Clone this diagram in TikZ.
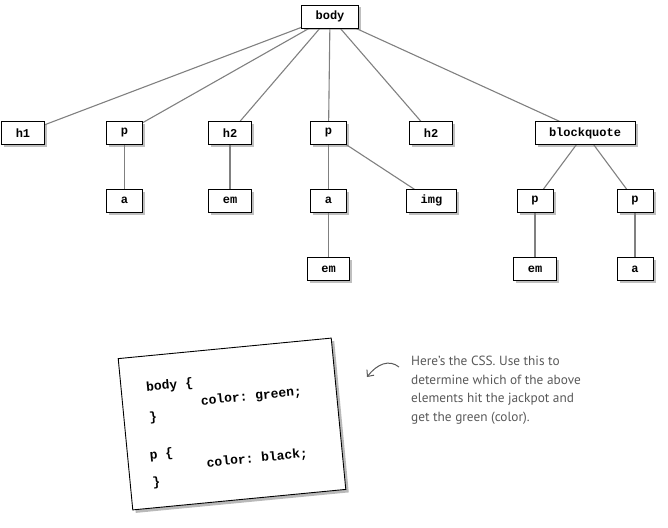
\documentclass[tikz,border=0pt]{standalone}
\usepackage{fontspec}
\setmonofont{Liberation Mono}
\newfontfamily\handfont{PT Sans}
\usetikzlibrary{arrows.meta,shadows,backgrounds}

\begin{document}
\begin{tikzpicture}[x=1pt, y=-1pt,
    tag/.style={draw, fill=white, line width=0.9pt, minimum width=36pt, minimum height=23pt,
        inner xsep=14pt, font=\ttfamily\bfseries\fontsize{12}{14}\selectfont,
        drop shadow={opacity=0.5, shadow xshift=2.5pt, shadow yshift=-2.5pt}},
    edge/.style={draw=black!50, line width=1.1pt},
    code/.style={anchor=west, inner sep=0pt, transform shape,
        font=\ttfamily\bfseries\fontsize{13}{15}\selectfont},
    note/.style={anchor=north west, align=left, inner sep=0pt, text=black!65,
        font=\handfont\fontsize{13.3}{18.5}\selectfont}]
    \useasboundingbox (0,0) rectangle (668,527);

    % the document tree
    \node [tag] (body) at (330,16.5) {body};

    \node [tag] (h1)  at (23,133)    {h1};
    \node [tag] (p1)  at (124.5,133) {p};
    \node [tag] (h2a) at (230,133)   {h2};
    \node [tag] (p2)  at (328.5,133) {p};
    \node [tag] (h2b) at (431,133)   {h2};
    \node [tag] (bq)  at (585,133)   {blockquote};

    \node [tag] (a1)  at (124.5,200.5) {a};
    \node [tag] (em1) at (230,200.5)   {em};
    \node [tag] (a2)  at (328.5,200.5) {a};
    \node [tag] (img) at (431.5,200.5) {img};
    \node [tag] (p3)  at (535,200.5)   {p};
    \node [tag] (p4)  at (635,200.5)   {p};

    \node [tag] (em2) at (328.5,269) {em};
    \node [tag] (em3) at (535,269)   {em};
    \node [tag] (a3)  at (635,269)   {a};

    \begin{scope}[on background layer]
        \draw [edge] (body.center) -- (h1.center);
        \draw [edge] (body.center) -- (p1.center);
        \draw [edge] (body.center) -- (h2a.center);
        \draw [edge] (body.center) -- (p2.center);
        \draw [edge] (body.center) -- (h2b.center);
        \draw [edge] (body.center) -- (bq.center);
        \draw [edge] (p1.center) -- (a1.center);
        \draw [edge] (h2a.center) -- (em1.center);
        \draw [edge] (p2.center) -- (a2.center);
        \draw [edge] (p2.center) -- (img.center);
        \draw [edge] (a2.center) -- (em2.center);
        \draw [edge] (bq.center) -- (p3.center);
        \draw [edge] (bq.center) -- (p4.center);
        \draw [edge] (p3.center) -- (em3.center);
        \draw [edge] (p4.center) -- (a3.center);
    \end{scope}

    % the CSS card
    \begin{scope}[shift={(232,424)}, rotate=5.5]
        \node [draw, fill=white, line width=0.9pt, minimum width=214pt, minimum height=152pt,
            transform shape, drop shadow={opacity=0.55, shadow xshift=3pt, shadow yshift=-3pt}]
            (card) at (0,0) {};
        \node [code] (bodysel) at (-82,-44) {body \{};
        \node [code] (green)   at (-29,-25) {color: green;};
        \node [code] (bodyend) at (-82,-14) {\}};
        \node [code] (psel)    at (-85,24)  {p \{};
        \node [code] (black)   at (-29,37)  {color: black;};
        \node [code] (pend)    at (-85,51)  {\}};
    \end{scope}

    % the note
    \node [note] (note) at (411,356) {Here’s the CSS. Use this to\\determine which of the above\\elements hit the jackpot and\\get the green (color).};
    \coordinate (tail) at (399,367);
    \coordinate (tip)  at (367,377);
    \draw [black!65, line width=1pt, -{Straight Barb[length=5pt,width=9pt]}]
        (tail) .. controls (389,359) and (377,364) .. (tip);
\end{tikzpicture}
\end{document}
